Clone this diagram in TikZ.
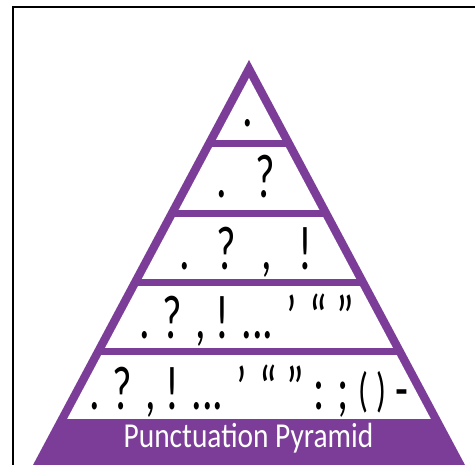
\documentclass[tikz,border=0pt]{standalone}
\usepackage{fontspec}
\setmainfont{Carlito}
\newfontfamily\punctfont[FakeStretch=0.68]{Carlito}
\newfontfamily\titlefont[FakeStretch=0.84]{Carlito}
\usepackage{tikz}
\usetikzlibrary{positioning}
\definecolor{pyrpurple}{RGB}{124,61,152}

\begin{document}
\begin{tikzpicture}[x=1pt, y=-1pt,
  lvl/.style={anchor=base, inner sep=0pt, text depth=0pt,
              font=\punctfont\fontsize{62}{62}\selectfont},
  banner/.style={anchor=base, inner sep=0pt, text=white, text height=22pt,
                 font=\titlefont\fontsize{35}{35}\selectfont}
]
  \useasboundingbox (0,0) rectangle (475,465);
  \fill[white] (0,0) rectangle (475,465);
  % frame (cut off at right and bottom)
  \draw[line width=2.3pt] (13,470) -- (13,7) -- (480,7);

  % pyramid
  \fill[pyrpurple] (249,60) -- (465,465) -- (33,465) -- cycle;
  \begin{scope}
    \clip (249,78) -- (455.4,465) -- (42.6,465) -- cycle;
    \foreach \ytop/\ybot in {60/140, 147/210, 217/279.5, 286/348.5, 355.5/419}
      \fill[white] (0,\ytop) rectangle (475,\ybot);
  \end{scope}

  \node[lvl] (lvl1) at (248,126.5) {.};
  \node[lvl] (lvl2) at (246,198) {.\hspace{28pt}?};
  \node[lvl] (lvl3) at (246,270) {.\hspace{26pt}?\hspace{26pt},\hspace{26pt}!};
  \node[lvl] (lvl4) at (247,339) {. ? , ! ... ’ “ ”};
  \node[lvl] (lvl5) at (249,410)
    {. ? , ! ... ’ “ ” : ; \raisebox{3pt}{\fontsize{48}{48}\selectfont( )} -};

  \node[banner] (title) at (248.5,448) {Punctuation Pyramid};
\end{tikzpicture}
\end{document}
